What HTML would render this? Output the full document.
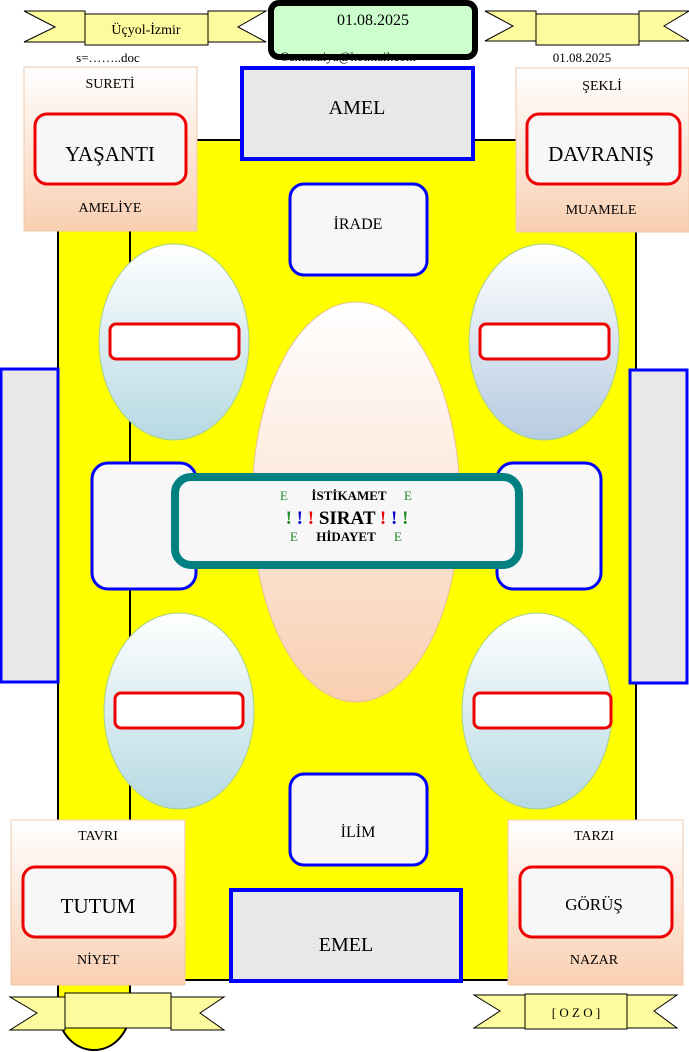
<!DOCTYPE html>
<html><head><meta charset="utf-8"><style>
html,body{margin:0;padding:0;background:#fff;}
svg{display:block;}
text{font-family:"Liberation Serif",serif;white-space:pre;}
#em{position:absolute;left:248px;top:49px;width:200px;text-align:center;font:13px "Liberation Serif",serif;color:#000;line-height:16px;}
</style></head><body>
<svg width="689" height="1052" viewBox="0 0 689 1052" xmlns="http://www.w3.org/2000/svg" xml:space="preserve">
<defs>
<linearGradient id="peach" x1="0" y1="0" x2="0" y2="1"><stop offset="0" stop-color="#fff"/><stop offset="1" stop-color="#f9cfb2"/></linearGradient>
<linearGradient id="blue1" x1="0" y1="0" x2="0" y2="1"><stop offset="0" stop-color="#fff"/><stop offset="1" stop-color="#b6d9e3"/></linearGradient>
<linearGradient id="blue2" x1="0" y1="0" x2="0" y2="1"><stop offset="0" stop-color="#fff"/><stop offset="1" stop-color="#b6cbe2"/></linearGradient>
</defs>
<path d="M58,980 L58,1010 A36,40 0 0 0 130,1010 L130,980 Z" fill="#ff0" stroke="#000" stroke-width="2"/>
<rect x="58" y="140" width="578" height="840" fill="#ff0" stroke="#000" stroke-width="2"/>
<line x1="130" y1="140" x2="130" y2="1000" stroke="#000" stroke-width="2"/>
<rect x="1" y="369" width="57" height="313" fill="#e8e8e8" stroke="#00f" stroke-width="3"/>
<rect x="630" y="370" width="57" height="313" fill="#e8e8e8" stroke="#00f" stroke-width="3"/>
<ellipse cx="174" cy="342" rx="75" ry="98" fill="url(#blue1)" stroke="#a8d08d" stroke-width="1"/>
<ellipse cx="544" cy="342" rx="75" ry="98" fill="url(#blue2)" stroke="#a8d08d" stroke-width="1"/>
<ellipse cx="179" cy="711" rx="75" ry="98" fill="url(#blue1)" stroke="#a8d08d" stroke-width="1"/>
<ellipse cx="537" cy="711" rx="75" ry="98" fill="url(#blue1)" stroke="#a8d08d" stroke-width="1"/>
<rect x="110" y="324" width="129" height="35" rx="6" fill="#fff" stroke="#e00" stroke-width="3"/>
<rect x="480" y="324" width="129" height="35" rx="6" fill="#fff" stroke="#e00" stroke-width="3"/>
<rect x="115" y="693" width="128" height="35" rx="6" fill="#fff" stroke="#e00" stroke-width="3"/>
<rect x="474" y="693" width="137" height="35" rx="6" fill="#fff" stroke="#e00" stroke-width="3"/>
<ellipse cx="356" cy="502" rx="104" ry="200" fill="url(#peach)" stroke="#e8c090" stroke-width="1"/>
<rect x="92" y="463" width="104" height="126" rx="16" fill="#f7f7f8" stroke="#00f" stroke-width="3"/>
<rect x="497" y="463" width="104" height="126" rx="16" fill="#f7f7f8" stroke="#00f" stroke-width="3"/>
<rect x="175" y="477" width="344" height="88" rx="16" fill="#f7f7f8" stroke="#008080" stroke-width="8"/>
<text x="280" y="500" font-size="13" fill="#228b22">E</text>
<text x="349" y="500" text-anchor="middle" font-size="13" font-weight="bold">İSTİKAMET</text>
<text x="404" y="500" font-size="13" fill="#228b22">E</text>
<text x="347" y="524" text-anchor="middle" font-size="19" font-weight="bold"><tspan fill="#228b22">!</tspan> <tspan fill="#00c">!</tspan> <tspan fill="#e00">!</tspan> SIRAT <tspan fill="#e00">!</tspan> <tspan fill="#00c">!</tspan> <tspan fill="#228b22">!</tspan></text>
<text x="290" y="541" font-size="13" fill="#228b22">E</text>
<text x="346" y="541" text-anchor="middle" font-size="13" font-weight="bold">HİDAYET</text>
<text x="394" y="541" font-size="13" fill="#228b22">E</text>
<rect x="242" y="68" width="231" height="91" fill="#e8e8e8" stroke="#00f" stroke-width="4"/>
<text x="357" y="114" text-anchor="middle" font-size="20">AMEL</text>
<rect x="231" y="890" width="230" height="91" fill="#e8e8e8" stroke="#00f" stroke-width="4"/>
<text x="346" y="951" text-anchor="middle" font-size="20">EMEL</text>
<rect x="290" y="184" width="137" height="91" rx="14" fill="#f7f7f8" stroke="#00f" stroke-width="3"/>
<text x="358" y="229" text-anchor="middle" font-size="16">İRADE</text>
<rect x="290" y="774" width="137" height="91" rx="14" fill="#f7f7f8" stroke="#00f" stroke-width="3"/>
<text x="358" y="837" text-anchor="middle" font-size="16">İLİM</text>
<rect x="24" y="67" width="173" height="164" fill="url(#peach)" stroke="#f0c8a8"/>
<text x="110" y="88" text-anchor="middle" font-size="14">SURETİ</text>
<rect x="35" y="114" width="151" height="70" rx="12" fill="#f7f7f8" stroke="#e00" stroke-width="3"/>
<text x="110" y="161" text-anchor="middle" font-size="21">YAŞANTI</text>
<text x="110" y="212" text-anchor="middle" font-size="14">AMELİYE</text>
<rect x="516" y="68" width="173" height="164" fill="url(#peach)" stroke="#f0c8a8"/>
<text x="602" y="90" text-anchor="middle" font-size="14">ŞEKLİ</text>
<rect x="527" y="114" width="153" height="70" rx="12" fill="#f7f7f8" stroke="#e00" stroke-width="3"/>
<text x="601" y="161" text-anchor="middle" font-size="21">DAVRANIŞ</text>
<text x="601" y="214" text-anchor="middle" font-size="14">MUAMELE</text>
<rect x="11" y="820" width="174" height="165" fill="url(#peach)" stroke="#f0c8a8"/>
<text x="98" y="840" text-anchor="middle" font-size="14">TAVRI</text>
<rect x="23" y="867" width="152" height="70" rx="12" fill="#f7f7f8" stroke="#e00" stroke-width="3"/>
<text x="98" y="913" text-anchor="middle" font-size="21">TUTUM</text>
<text x="98" y="964" text-anchor="middle" font-size="14">NİYET</text>
<rect x="508" y="820" width="175" height="165" fill="url(#peach)" stroke="#f0c8a8"/>
<text x="594" y="840" text-anchor="middle" font-size="14">TARZI</text>
<rect x="520" y="867" width="152" height="70" rx="12" fill="#f7f7f8" stroke="#e00" stroke-width="3"/>
<text x="594" y="910" text-anchor="middle" font-size="17">GÖRÜŞ</text>
<text x="594" y="964" text-anchor="middle" font-size="14">NAZAR</text>
<g fill="#fefb9e" stroke="#000" stroke-width="1">
<polygon points="24,11 85,11 85,42 24,42 55,27"/>
<polygon points="208,11 266,11 238,27 266,42 208,42"/>
<rect x="85" y="14" width="123" height="31"/>
<polygon points="485,11 536,11 536,41 485,41 513,26"/>
<polygon points="639,11 689,11 664,26 689,41 639,41"/>
<rect x="536" y="14" width="103" height="31"/>
<polygon points="10,997 65,997 65,1030 10,1030 37,1013"/>
<polygon points="171,997 224,997 200,1013 224,1030 171,1030"/>
<rect x="65" y="993" width="106" height="35"/>
<polygon points="474,995 525,995 525,1028 474,1028 500,1011"/>
<polygon points="627,995 677,995 654,1011 677,1028 627,1028"/>
<rect x="525" y="994" width="102" height="35"/>
</g>
<text x="146" y="34" text-anchor="middle" font-size="14">Üçyol-İzmir</text>
<text x="576" y="1017" text-anchor="middle" font-size="13">[ O Z O ]</text>
<rect x="271" y="3" width="204" height="54" rx="8" fill="#ccffcc" stroke="#000" stroke-width="6"/>
<text x="373" y="25" text-anchor="middle" font-size="16">01.08.2025</text>
<text x="108" y="62" text-anchor="middle" font-size="13">s=……..doc</text>
<text x="582" y="62" text-anchor="middle" font-size="13">01.08.2025</text>
</svg>
<div id="em">Osmanziya@hotmail.com</div>
</body></html>
